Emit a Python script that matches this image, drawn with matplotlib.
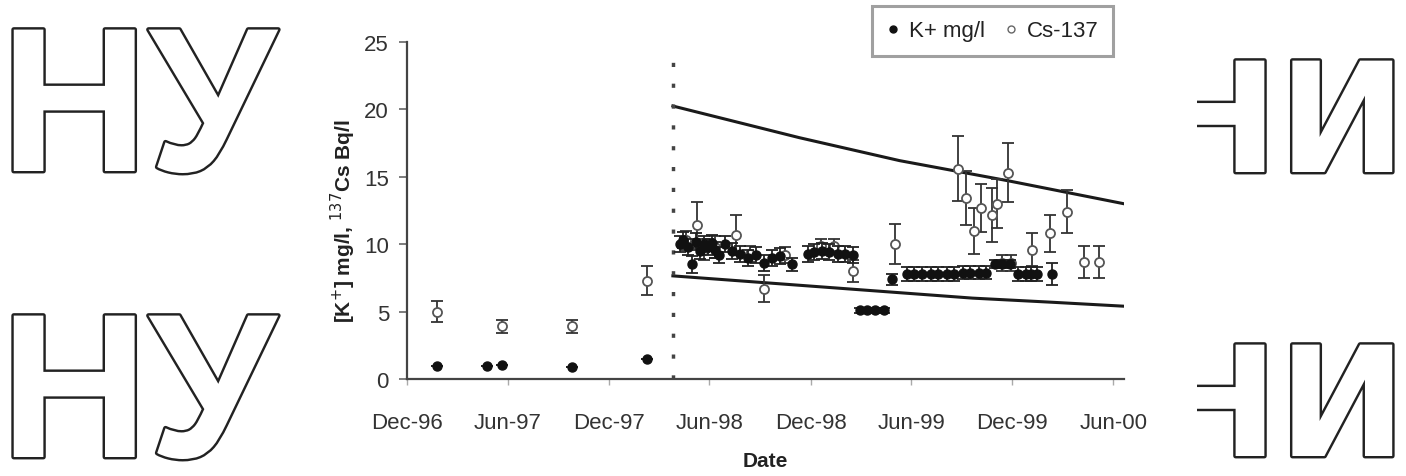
import datetime as dt
import matplotlib
matplotlib.use("Agg")
import matplotlib.pyplot as plt
import matplotlib.patheffects as pe
from matplotlib.lines import Line2D
from matplotlib.transforms import Bbox, TransformedBbox

# K+ (mg/l), puntos rellenos
k_fechas = ["1997-01-24", "1997-04-25", "1997-05-22", "1997-09-25", "1998-02-08",
            "1998-04-08", "1998-04-15", "1998-04-23", "1998-04-30", "1998-05-08",
            "1998-05-15", "1998-05-22", "1998-05-29", "1998-06-05", "1998-06-12",
            "1998-06-19", "1998-06-30", "1998-07-11", "1998-07-26", "1998-08-09",
            "1998-08-24", "1998-09-07", "1998-09-22", "1998-10-06", "1998-10-29",
            "1998-11-26", "1998-12-08", "1998-12-21", "1999-01-04", "1999-01-19",
            "1999-02-02", "1999-02-15", "1999-02-28", "1999-03-14", "1999-03-28",
            "1999-04-12", "1999-04-28", "1999-05-24", "1999-06-07", "1999-06-21",
            "1999-07-06", "1999-07-20", "1999-08-04", "1999-08-18", "1999-09-02",
            "1999-09-16", "1999-10-01", "1999-10-15", "1999-10-30", "1999-11-13",
            "1999-11-27", "1999-12-12", "1999-12-25", "2000-01-04", "2000-01-15",
            "2000-02-11"]
k_valores = [1.0, 0.95, 1.05, 0.9, 1.5,
             10.0, 10.3, 9.8, 8.5, 10.2,
             9.5, 10.0, 9.8, 10.1, 9.6,
             9.2, 10.0, 9.5, 9.3, 9.0,
             9.2, 8.6, 9.0, 9.1, 8.5,
             9.3, 9.4, 9.5, 9.4, 9.3,
             9.3, 9.2, 5.1, 5.1, 5.1,
             5.1, 7.4, 7.8, 7.8, 7.8,
             7.8, 7.8, 7.8, 7.8, 7.9,
             7.9, 7.9, 7.9, 8.5, 8.5,
             8.5, 7.8, 7.8, 7.8, 7.8,
             7.8]
k_error = [0, 0, 0, 0, 0,
           0.6, 0.6, 0.6, 0.6, 0.6,
           0.6, 0.6, 0.6, 0.6, 0.6,
           0.6, 0.6, 0.6, 0.6, 0.6,
           0.6, 0.6, 0.6, 0.6, 0.5,
           0.6, 0.6, 0.6, 0.6, 0.6,
           0.6, 0.6, 0.2, 0.2, 0.2,
           0.2, 0.4, 0.5, 0.5, 0.5,
           0.5, 0.5, 0.5, 0.5, 0.5,
           0.5, 0.5, 0.5, 0.3, 0.3,
           0.3, 0.5, 0.5, 0.5, 0.5,
           0.8]

# Cs-137 (Bq/l), puntos abiertos
cs_fechas = ["1997-01-24", "1997-05-22", "1997-09-25", "1998-02-08",
             "1998-04-19", "1998-05-09", "1998-05-22", "1998-06-12", "1998-07-20",
             "1998-08-13", "1998-09-07", "1998-10-15", "1998-12-19", "1999-01-13",
             "1999-02-15", "1999-05-02", "1999-08-24", "1999-09-09", "1999-09-23",
             "1999-10-06", "1999-10-26", "1999-11-04", "1999-11-12", "1999-11-24",
             "1999-11-28", "2000-01-06", "2000-02-08", "2000-03-09", "2000-04-09",
             "2000-05-06"]
cs_valores = [5.0, 3.9, 3.9, 7.3,
              10.3, 11.4, 9.6, 9.8, 10.7,
              9.3, 6.7, 9.2, 9.9, 9.9,
              8.0, 10.0, 15.6, 13.4, 11.0,
              12.7, 12.2, 13.0, 8.6, 15.3,
              8.6, 9.6, 10.8, 12.4, 8.7,
              8.7]
cs_error = [0.8, 0.5, 0.5, 1.1,
            0.7, 1.7, 0.8, 0.8, 1.5,
            0.6, 1.0, 0.6, 0.5, 0.5,
            0.8, 1.5, 2.4, 2.0, 1.7,
            1.8, 2.0, 1.8, 0.6, 2.2,
            0.6, 1.2, 1.4, 1.6, 1.2,
            1.2]

# Lineas de referencia
sup_fechas = ["1998-03-27", "1998-11-11", "1999-05-11", "1999-11-24", "2000-06-20"]
sup_valores = [20.25, 17.9, 16.2, 14.7, 13.0]
inf_fechas = ["1998-03-27", "1998-12-15", "1999-09-20", "2000-02-08", "2000-06-20"]
inf_valores = [7.65, 6.85, 6.0, 5.7, 5.4]

fecha_corte = "1998-03-27"
ticks_x = ["1996-12-01", "1997-06-01", "1997-12-01", "1998-06-01",
           "1998-12-01", "1999-06-01", "1999-12-01", "2000-06-01"]
etiquetas_x = ["Dec-96", "Jun-97", "Dec-97", "Jun-98", "Dec-98", "Jun-99", "Dec-99", "Jun-00"]


def a_fecha(lista):
    return [dt.datetime.strptime(f, "%Y-%m-%d") for f in lista]


plt.rcParams['font.family'] = ['Liberation Sans', 'DejaVu Sans']

fig = plt.figure(figsize=(14.06, 4.77), dpi=100)
ax = fig.add_axes([407 / 1406, 1 - 380 / 477, 717 / 1406, 337 / 477])

# Lineas de tendencia
ax.plot(a_fecha(sup_fechas), sup_valores, color='#1a1a1a', lw=2.2, zorder=2)
ax.plot(a_fecha(inf_fechas), inf_valores, color='#1a1a1a', lw=2.2, zorder=2)

# Linea vertical punteada
corte = dt.datetime.strptime(fecha_corte, "%Y-%m-%d")
ax.plot([corte, corte], [0, 24.5], color='#444444', lw=2.5,
        linestyle=(0, (1.2, 4.8)), zorder=2)

# Cs-137
ax.errorbar(a_fecha(cs_fechas), cs_valores, yerr=cs_error, fmt='o', ms=6.5,
            mfc='white', mec='#555555', mew=1.3, ecolor='#333333',
            elinewidth=1.3, capsize=4, capthick=1.3, zorder=3)

# K+
ax.errorbar(a_fecha(k_fechas), k_valores, yerr=k_error, fmt='o', ms=6.5,
            color='#111111', ecolor='#222222', elinewidth=1.3, capsize=4,
            capthick=1.3, zorder=4)

ax.set_ylim(0, 25)
ax.set_xlim(dt.datetime(1996, 12, 1), dt.datetime(2000, 6, 20))
ax.set_yticks([0, 5, 10, 15, 20, 25])
ax.set_xticks(a_fecha(ticks_x))
ax.set_xticklabels(etiquetas_x)

for lado in ['top', 'right']:
    ax.spines[lado].set_visible(False)
for lado in ['left', 'bottom']:
    ax.spines[lado].set_color('#444444')
    ax.spines[lado].set_linewidth(1.6)

ax.tick_params(axis='y', direction='out', length=6, width=1.2, color='#666666',
               labelsize=16, labelcolor='#333333', pad=7)
ax.tick_params(axis='x', direction='out', length=4, width=1.0, color='#aaaaaa',
               labelsize=16, labelcolor='#333333', pad=20)

ax.set_ylabel(r'[K$^{+}$] mg/l, $^{137}$Cs Bq/l', fontsize=15, fontweight='bold',
              color='#222222')
ax.yaxis.set_label_coords(-0.068, 0.47)
ax.set_xlabel('Date', fontsize=15, fontweight='bold', color='#222222')
ax.xaxis.set_label_coords(0.5, -0.215)

# Leyenda
manejadores = [Line2D([], [], marker='o', color='#111111', ls='', ms=5),
               Line2D([], [], marker='o', mfc='white', mec='#666666', ls='', ms=5)]
leyenda = fig.legend(manejadores, ['K+ mg/l', 'Cs-137'], loc='upper right',
                     bbox_to_anchor=(1113 / 1406, 1 - 7 / 477), ncol=2,
                     fontsize=16, fancybox=False, handlelength=0.6,
                     handletextpad=0.4, columnspacing=0.9, borderpad=0.65,
                     borderaxespad=0)
leyenda.get_frame().set_edgecolor('#888888')
leyenda.get_frame().set_linewidth(2.2)
for t in leyenda.get_texts():
    t.set_color('#222222')

# Letras decorativas de contorno
contorno = [pe.withStroke(linewidth=3.5, foreground='#222222')]
for y_base in [1 - 172 / 477, 1 - 458 / 477]:
    fig.text(0, y_base, 'НУ', fontsize=148, fontweight='bold',
             family='Liberation Sans', color='white', va='baseline', ha='left',
             path_effects=contorno)

recorte = TransformedBbox(Bbox([[1197 / 1406, 0], [1, 1]]), fig.transFigure)
for y_base in [1 - 173 / 477, 1 - 457 / 477]:
    t = fig.text(1406 / 1406, y_base, 'НИ', fontsize=110, fontweight='bold',
                 family='DejaVu Sans', color='white', va='baseline', ha='right',
                 path_effects=contorno)
    t.set_clip_box(recorte)
    t.set_clip_on(True)

fig.savefig('out.png', dpi=100)
